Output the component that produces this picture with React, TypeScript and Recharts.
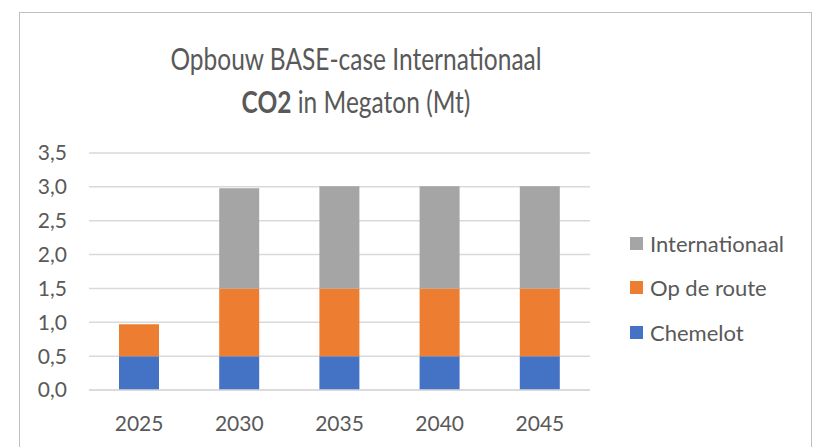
import { BarChart, Bar, XAxis, YAxis, CartesianGrid } from "recharts";

const years = ["2025", "2030", "2035", "2040", "2045"];
const chemelot = [0.5, 0.5, 0.5, 0.5, 0.5];
const opDeRoute = [0.47, 1.0, 1.0, 1.0, 1.0];
const internationaal = [0, 1.48, 1.51, 1.51, 1.51];
const yTicks = [0, 0.5, 1, 1.5, 2, 2.5, 3, 3.5];

const series = [
  { key: "chemelot", name: "Chemelot", color: "#4472C4" },
  { key: "opDeRoute", name: "Op de route", color: "#ED7D31" },
  { key: "internationaal", name: "Internationaal", color: "#A5A5A5" },
];

const data = years.map((y, i) => ({
  year: y,
  chemelot: chemelot[i],
  opDeRoute: opDeRoute[i],
  internationaal: internationaal[i],
}));

const font = "Lato, 'Open Sans', sans-serif";
const textColor = "#595959";

function LegendBox() {
  return (
    <div
      style={{
        position: "absolute",
        left: 630,
        top: 221,
        fontFamily: font,
        fontSize: 22,
        color: textColor,
      }}
    >
      {[...series].reverse().map((s) => (
        <div key={s.key} style={{ display: "flex", alignItems: "center", height: 44.5 }}>
          <span style={{ width: 13, height: 13, background: s.color, marginRight: 7 }} />
          <span>{s.name}</span>
        </div>
      ))}
    </div>
  );
}

const titleLine = { transform: "scaleY(1.22)", transformOrigin: "center" };

export default function App() {
  return (
    <div style={{ position: "absolute", left: 0, top: 0, width: 815, height: 447, background: "#fff", overflow: "hidden" }}>
      <div
        style={{
          position: "absolute",
          left: 19,
          top: 12,
          width: 793,
          height: 440,
          border: "1px solid #bfbfbf",
          boxSizing: "border-box",
        }}
      />
      <div
        style={{
          position: "absolute",
          left: 106,
          width: 500,
          top: 37,
          textAlign: "center",
          fontFamily: font,
          fontSize: 24.5,
          lineHeight: "43px",
          color: textColor,
        }}
      >
        <div style={titleLine}>Opbouw BASE-case Internationaal</div>
        <div style={titleLine}>
          <b>CO2</b> in Megaton (Mt)
        </div>
      </div>
      <BarChart
        width={815}
        height={447}
        data={data}
        margin={{ top: 153, right: 225, bottom: 27, left: 0 }}
        barSize={40}
        style={{ position: "absolute", left: 0, top: 0 }}
      >
        <CartesianGrid vertical={false} stroke="#d9d9d9" strokeWidth={1.5} />
        <XAxis
          dataKey="year"
          height={30}
          axisLine={{ stroke: "#d9d9d9", strokeWidth: 1.5 }}
          tickLine={false}
          tickMargin={20}
          tick={{ fill: textColor, fontSize: 21, fontFamily: font }}
        />
        <YAxis
          width={89}
          domain={[0, 3.5]}
          ticks={yTicks}
          axisLine={false}
          tickLine={false}
          tickMargin={16}
          tick={{ fill: textColor, fontSize: 21, fontFamily: font }}
          tickFormatter={(v: number) => v.toFixed(1).replace(".", ",")}
        />
        {series.map((s) => (
          <Bar key={s.key} dataKey={s.key} name={s.name} stackId="a" fill={s.color} isAnimationActive={false} />
        ))}
      </BarChart>
      <LegendBox />
    </div>
  );
}
